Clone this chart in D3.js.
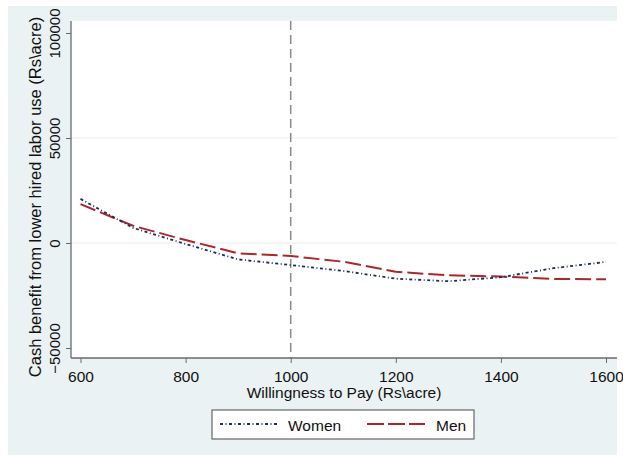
<!DOCTYPE html>
<html><head><meta charset="utf-8">
<script src="https://cdn.jsdelivr.net/npm/d3@7/dist/d3.min.js"></script>
<style>body{margin:0;background:#fff}svg{display:block}text{font-family:"Liberation Sans",Arial,Helvetica,sans-serif;fill:#111}</style>
</head><body><svg id="c" width="623" height="459"></svg>
<script>
const wtp = [600,700,800,900,1000,1100,1200,1300,1400,1500,1600];
const women = [21000,7200,-500,-7800,-10500,-13300,-17000,-18200,-16300,-12000,-9000];
const men = [18500,8200,1400,-4900,-6200,-8900,-13700,-15400,-16000,-17100,-17300];
const xTicks = [600,800,1000,1200,1400,1600];
const yTicks = [-50000,0,50000,100000];
const seriesNames = ["Women","Men"];

const svg = d3.select("#c");
svg.append("rect").attr("x",8).attr("y",6).attr("width",609).attr("height",449).attr("fill","#eaf2f3");
const L=71,R=617,T=21,B=358;
svg.append("rect").attr("x",L).attr("y",T).attr("width",R-L).attr("height",B-T).attr("fill","#fff");
const x = d3.scaleLinear().domain([600,1600]).range([80.5,606]);
const y = d3.scaleLinear().domain([0,50000]).range([243,138]);

// gridlines
svg.append("g").selectAll("line").data(yTicks.filter(v=>v>-50000&&v<100000)).join("line")
  .attr("x1",L).attr("x2",R).attr("y1",d=>y(d)).attr("y2",d=>y(d)).attr("stroke","#e6eef0").attr("stroke-width",1.2);

// vertical reference line
svg.append("line").attr("x1",x(1000)).attr("x2",x(1000)).attr("y1",T).attr("y2",B)
  .attr("stroke","#8a8a8a").attr("stroke-width",1.5).attr("stroke-dasharray","9,5");

// axes
const xa = svg.append("g").attr("transform",`translate(0,${B})`)
  .call(d3.axisBottom(x).tickValues(xTicks).tickSize(5).tickPadding(3).tickFormat(d3.format("d")));
const ya = svg.append("g").attr("transform",`translate(${L},0)`)
  .call(d3.axisLeft(y).tickValues(yTicks).tickSize(5).tickPadding(3).tickFormat(d3.format("d")));
[xa,ya].forEach(a=>{a.select(".domain").attr("stroke","#6a6a6a").attr("stroke-width",1.3);
  a.selectAll(".tick line").attr("stroke","#6a6a6a");
  a.selectAll("text").attr("fill","#111").style("font-family",'"Liberation Sans",Arial,sans-serif');});
xa.select(".domain").attr("d",`M${L},0H${R}`);
ya.select(".domain").attr("d",`M0,${T}V${B}`);
xa.selectAll(".tick text").style("font-size","15.5px").attr("y",24).attr("dy","0");
ya.selectAll(".tick text").style("font-size","15px").attr("transform","rotate(-90)").attr("x",0).attr("y",-11).attr("dy","0").attr("text-anchor","middle");

const line = d3.line().x((d,i)=>x(wtp[i])).y(d=>y(d));
svg.append("path").attr("d",line(men)).attr("fill","none").attr("stroke","#a8282c").attr("stroke-width",2).attr("stroke-dasharray","16,5");
svg.append("path").attr("d",line(women)).attr("fill","none").attr("stroke","#1c2a5c").attr("stroke-width",1.8).attr("stroke-dasharray","3,2.5,1,2.5");

// titles
svg.append("text").attr("x",(L+R)/2).attr("y",398).attr("text-anchor","middle").style("font-size","15.5px").text("Willingness to Pay (Rs\\acre)");
svg.append("text").attr("transform",`translate(41,197) rotate(-90)`).attr("text-anchor","middle").style("font-size","16.5px").text("Cash benefit from lower hired labor use (Rs\\acre)");

// legend
const lg = svg.append("g");
lg.append("rect").attr("x",212).attr("y",410).attr("width",262).attr("height",29).attr("fill","#fff").attr("stroke","#666").attr("stroke-width",1.2);
lg.append("line").attr("x1",220).attr("x2",278).attr("y1",424).attr("y2",424).attr("stroke","#1c2a5c").attr("stroke-width",1.8).attr("stroke-dasharray","3,2.5,1,2.5");
lg.append("text").attr("x",288).attr("y",431).style("font-size","15.5px").text(seriesNames[0]);
lg.append("line").attr("x1",367).attr("x2",425).attr("y1",424).attr("y2",424).attr("stroke","#a8282c").attr("stroke-width",2).attr("stroke-dasharray","17,4");
lg.append("text").attr("x",436).attr("y",431).style("font-size","15.5px").text(seriesNames[1]);
</script></body></html>
